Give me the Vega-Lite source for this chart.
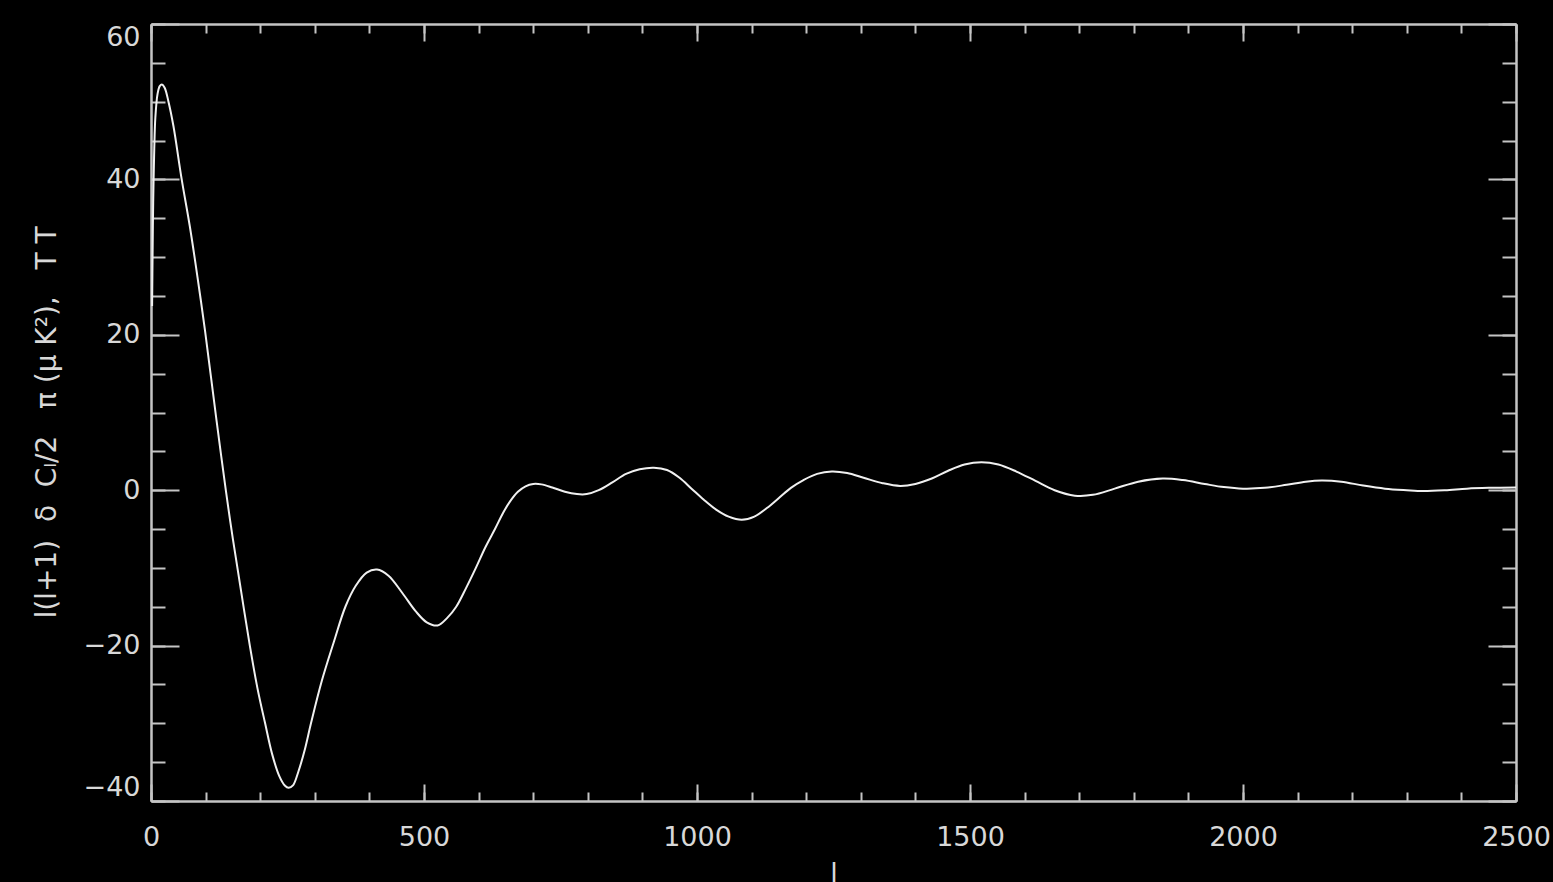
{
  "$schema": "https://vega.github.io/schema/vega-lite/v6.json",
  "width": 1365,
  "height": 777,
  "autosize": {"type": "none"},
  "padding": {"left": 151, "top": 24, "right": 37, "bottom": 81},
  "background": "#000000",
  "config": {
    "view": {"stroke": null},
    "axis": {
      "grid": false,
      "domainColor": "#c4c4c4",
      "domainWidth": 2,
      "tickColor": "#c4c4c4",
      "tickWidth": 2,
      "labelColor": "#d8d8d8",
      "labelFont": "DejaVu Sans",
      "labelFontSize": 27,
      "labelFontWeight": "normal",
      "titleColor": "#d8d8d8",
      "titleFont": "DejaVu Sans",
      "titleFontWeight": "normal"
    }
  },
  "data": {
    "values": [
      {"l": 2, "v": 23.7}, {"l": 3, "v": 31}, {"l": 4, "v": 37}, {"l": 6, "v": 44}, {"l": 8, "v": 48},
      {"l": 12, "v": 51}, {"l": 16, "v": 52}, {"l": 20, "v": 52.2}, {"l": 25, "v": 51.8}, {"l": 32, "v": 50},
      {"l": 41, "v": 46.9}, {"l": 56, "v": 40.1}, {"l": 71, "v": 34}, {"l": 85, "v": 27.5}, {"l": 99, "v": 20.5},
      {"l": 110, "v": 14.5}, {"l": 120, "v": 9}, {"l": 137, "v": 0}, {"l": 150, "v": -6.3}, {"l": 165, "v": -13},
      {"l": 181, "v": -20}, {"l": 195, "v": -25.5}, {"l": 209, "v": -30}, {"l": 222, "v": -34}, {"l": 235, "v": -36.8},
      {"l": 245, "v": -38}, {"l": 252, "v": -38.3}, {"l": 260, "v": -38}, {"l": 270, "v": -36.2}, {"l": 282, "v": -33.3},
      {"l": 293, "v": -30}, {"l": 313, "v": -24.5}, {"l": 335, "v": -19.5}, {"l": 356, "v": -15}, {"l": 375, "v": -12.3},
      {"l": 395, "v": -10.6}, {"l": 414, "v": -10.2}, {"l": 435, "v": -11}, {"l": 460, "v": -13.2}, {"l": 485, "v": -15.6},
      {"l": 505, "v": -17}, {"l": 525, "v": -17.4}, {"l": 543, "v": -16.4}, {"l": 559, "v": -15}, {"l": 577, "v": -12.6},
      {"l": 595, "v": -10}, {"l": 612, "v": -7.4}, {"l": 630, "v": -5}, {"l": 645, "v": -2.9}, {"l": 658, "v": -1.4},
      {"l": 672, "v": -0.2}, {"l": 686, "v": 0.5}, {"l": 700, "v": 0.8}, {"l": 715, "v": 0.75}, {"l": 735, "v": 0.35},
      {"l": 758, "v": -0.2}, {"l": 780, "v": -0.5}, {"l": 798, "v": -0.5},
      {"l": 820, "v": 0}, {"l": 845, "v": 1}, {"l": 870, "v": 2.1}, {"l": 895, "v": 2.7},
      {"l": 921, "v": 2.9}, {"l": 945, "v": 2.6}, {"l": 968, "v": 1.6}, {"l": 990, "v": 0.2}, {"l": 1012, "v": -1.2},
      {"l": 1035, "v": -2.5}, {"l": 1058, "v": -3.4}, {"l": 1082, "v": -3.8}, {"l": 1105, "v": -3.4}, {"l": 1128, "v": -2.3},
      {"l": 1150, "v": -1}, {"l": 1172, "v": 0.3}, {"l": 1195, "v": 1.3}, {"l": 1220, "v": 2.1}, {"l": 1247, "v": 2.4},
      {"l": 1275, "v": 2.2}, {"l": 1305, "v": 1.6}, {"l": 1340, "v": 0.9}, {"l": 1372, "v": 0.55}, {"l": 1400, "v": 0.8},
      {"l": 1430, "v": 1.5}, {"l": 1460, "v": 2.5}, {"l": 1490, "v": 3.3}, {"l": 1521, "v": 3.6}, {"l": 1552, "v": 3.3},
      {"l": 1585, "v": 2.4}, {"l": 1620, "v": 1.2}, {"l": 1655, "v": 0}, {"l": 1692, "v": -0.7}, {"l": 1725, "v": -0.6},
      {"l": 1765, "v": 0.2}, {"l": 1808, "v": 1.1}, {"l": 1853, "v": 1.5}, {"l": 1890, "v": 1.3}, {"l": 1930, "v": 0.8},
      {"l": 1965, "v": 0.4}, {"l": 2000, "v": 0.2}, {"l": 2040, "v": 0.3}, {"l": 2080, "v": 0.7}, {"l": 2115, "v": 1.1},
      {"l": 2144, "v": 1.25}, {"l": 2180, "v": 1.1}, {"l": 2220, "v": 0.6}, {"l": 2260, "v": 0.2}, {"l": 2300, "v": 0},
      {"l": 2330, "v": -0.1}, {"l": 2370, "v": 0}, {"l": 2410, "v": 0.2}, {"l": 2450, "v": 0.3}, {"l": 2500, "v": 0.35}
    ]
  },
  "resolve": {"axis": {"x": "independent", "y": "independent"}},
  "layer": [
    {
      "mark": {"type": "line", "color": "#f0f0f0", "strokeWidth": 2, "interpolate": "catmull-rom", "clip": true},
      "encoding": {
        "x": {
          "field": "l", "type": "quantitative",
          "scale": {"domain": [0, 2500], "nice": false, "zero": false},
          "axis": {
            "orient": "bottom", "values": [0, 500, 1000, 1500, 2000, 2500], "format": "d",
            "tickSize": -17, "labelPadding": 40, "labelFlush": false, "labelOverlap": false,
            "title": "l", "titleFontSize": 27, "titlePadding": 10
          }
        },
        "y": {
          "field": "v", "type": "quantitative",
          "scale": {"domain": [-40, 60], "nice": false, "zero": false},
          "axis": {
            "orient": "left", "values": [-40, -20, 0, 20, 40, 60], "format": "d",
            "tickSize": -28, "labelPadding": 39, "labelFlush": true, "labelOverlap": false,
            "title": "l(l+1)\u00a0\u00a0δ\u00a0\u00a0Cₗ/2\u00a0\u00a0\u00a0π\u00a0(μ\u00a0K²),\u00a0\u00a0\u00a0T\u00a0T",
            "titleFontSize": 28, "titleAngle": -90, "titleX": -96, "titleY": 398,
            "titleAlign": "center", "titleBaseline": "alphabetic"
          }
        }
      }
    },
    {
      "mark": {"type": "line", "strokeOpacity": 0},
      "encoding": {
        "x": {
          "field": "l", "type": "quantitative",
          "axis": {
            "orient": "bottom",
            "values": [0, 100, 200, 300, 400, 500, 600, 700, 800, 900, 1000, 1100, 1200, 1300, 1400, 1500, 1600, 1700, 1800, 1900, 2000, 2100, 2200, 2300, 2400, 2500],
            "tickSize": -9, "labels": false, "title": null
          }
        },
        "y": {
          "field": "v", "type": "quantitative",
          "axis": {
            "orient": "left",
            "values": [-40, -35, -30, -25, -20, -15, -10, -5, 0, 5, 10, 15, 20, 25, 30, 35, 40, 45, 50, 55, 60],
            "tickSize": -14, "labels": false, "title": null
          }
        }
      }
    },
    {
      "mark": {"type": "line", "strokeOpacity": 0},
      "encoding": {
        "x": {
          "field": "l", "type": "quantitative",
          "axis": {
            "orient": "top", "values": [0, 500, 1000, 1500, 2000, 2500],
            "tickSize": -17, "labels": false, "title": null
          }
        },
        "y": {
          "field": "v", "type": "quantitative",
          "axis": {
            "orient": "right", "values": [-40, -20, 0, 20, 40, 60],
            "tickSize": -28, "labels": false, "title": null
          }
        }
      }
    },
    {
      "mark": {"type": "line", "strokeOpacity": 0},
      "encoding": {
        "x": {
          "field": "l", "type": "quantitative",
          "axis": {
            "orient": "top",
            "values": [0, 100, 200, 300, 400, 500, 600, 700, 800, 900, 1000, 1100, 1200, 1300, 1400, 1500, 1600, 1700, 1800, 1900, 2000, 2100, 2200, 2300, 2400, 2500],
            "tickSize": -9, "labels": false, "title": null
          }
        },
        "y": {
          "field": "v", "type": "quantitative",
          "axis": {
            "orient": "right",
            "values": [-40, -35, -30, -25, -20, -15, -10, -5, 0, 5, 10, 15, 20, 25, 30, 35, 40, 45, 50, 55, 60],
            "tickSize": -14, "labels": false, "title": null
          }
        }
      }
    }
  ]
}
